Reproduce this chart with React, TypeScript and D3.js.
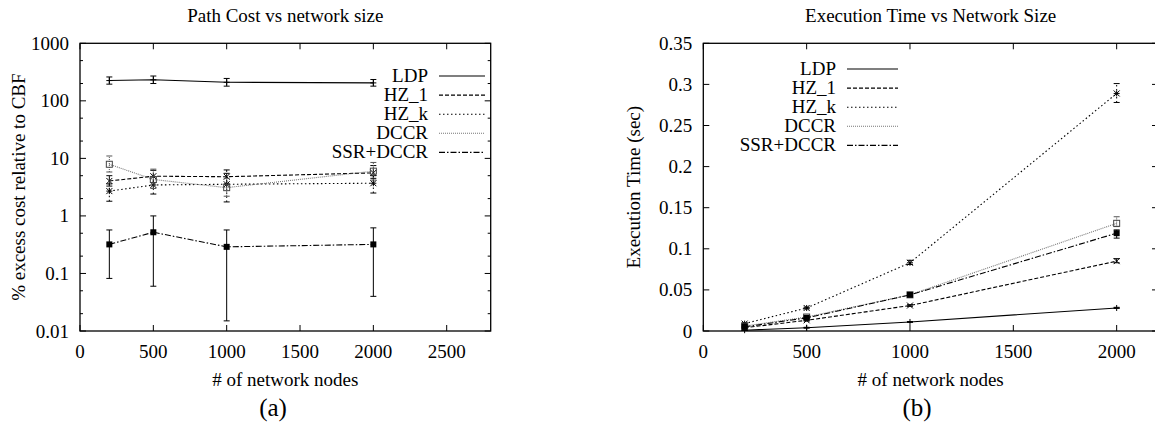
import React from 'react';
import * as d3 from 'd3';

// x positions (network nodes) shared by every series
const nodes = [200, 500, 1000, 2000];
const seriesNames = ['LDP', 'HZ_1', 'HZ_k', 'DCCR', 'SSR+DCCR'];

// panel (a): % excess cost relative to CBF (log scale)
const costLDP = [225, 232, 210, 205];
const costLDPLo = [195, 200, 180, 180];
const costLDPHi = [260, 270, 245, 235];
const costHZ1 = [4.05, 4.9, 4.8, 5.6];
const costHZ1Lo = [3.3, 3.8, 3.6, 4.5];
const costHZ1Hi = [5.0, 6.2, 6.3, 7.5];
const costHZk = [2.7, 3.45, 3.55, 3.7];
const costHZkLo = [1.8, 2.4, 1.75, 2.5];
const costHZkHi = [3.6, 4.8, 5.5, 5.0];
const costDCCR = [7.9, 4.3, 3.1, 6.0];
const costDCCRLo = [5.8, 3.0, 2.2, 4.2];
const costDCCRHi = [11, 6.5, 4.5, 8.5];
const costSSR = [0.32, 0.52, 0.29, 0.32];
const costSSRLo = [0.082, 0.06, 0.015, 0.04];
const costSSRHi = [0.57, 1.0, 0.57, 0.62];

// panel (b): execution time (sec)
const timeLDP = [0.001, 0.004, 0.011, 0.028];
const timeLDPLo = [0.0008, 0.0035, 0.0105, 0.0275];
const timeLDPHi = [0.0012, 0.0045, 0.0115, 0.0288];
const timeHZ1 = [0.004, 0.013, 0.031, 0.085];
const timeHZ1Lo = [0.0035, 0.012, 0.03, 0.083];
const timeHZ1Hi = [0.0045, 0.014, 0.032, 0.088];
const timeHZk = [0.009, 0.028, 0.083, 0.289];
const timeHZkLo = [0.008, 0.027, 0.081, 0.278];
const timeHZkHi = [0.01, 0.029, 0.086, 0.301];
const timeDCCR = [0.006, 0.017, 0.044, 0.131];
const timeDCCRLo = [0.005, 0.016, 0.043, 0.127];
const timeDCCRHi = [0.007, 0.018, 0.045, 0.139];
const timeSSR = [0.005, 0.016, 0.044, 0.119];
const timeSSRLo = [0.004, 0.015, 0.042, 0.113];
const timeSSRHi = [0.006, 0.017, 0.046, 0.123];

const xTicksA = [0, 500, 1000, 1500, 2000, 2500];
const yTicksA = [0.01, 0.1, 1, 10, 100, 1000];
const yTickLabelsA = ['0.01', '0.1', '1', '10', '100', '1000'];
const xTicksB = [0, 500, 1000, 1500, 2000];
const yTicksB = [0, 0.05, 0.1, 0.15, 0.2, 0.25, 0.3, 0.35];
const yTickLabelsB = ['0', '0.05', '0.1', '0.15', '0.2', '0.25', '0.3', '0.35'];

const FONT = '"Liberation Serif", "Times New Roman", serif';

// gnuplot-like line styles, one per series
const styles = [
  { dash: undefined, color: '#000', marker: 'plus', errDash: undefined },
  { dash: '4,2', color: '#000', marker: 'cross', errDash: '4,2' },
  { dash: '1.5,2.5', color: '#000', marker: 'star', errDash: '1.5,2.5' },
  { dash: '1,1', color: '#777', marker: 'box', errDash: '1,1' },
  { dash: '6,2,1.5,2', color: '#000', marker: 'fbox', errDash: undefined },
];

type Series = { v: number[]; lo: number[]; hi: number[] };

function Marker({ type, x, y }: { type: string; x: number; y: number }) {
  const s = 3;
  if (type === 'plus')
    return <path d={`M${x - s},${y}H${x + s}M${x},${y - s}V${y + s}`} stroke="#000" strokeWidth={1} />;
  if (type === 'cross')
    return <path d={`M${x - s},${y - s}L${x + s},${y + s}M${x - s},${y + s}L${x + s},${y - s}`} stroke="#000" strokeWidth={1} />;
  if (type === 'star')
    return <path d={`M${x - s},${y}H${x + s}M${x},${y - s}V${y + s}M${x - s},${y - s}L${x + s},${y + s}M${x - s},${y + s}L${x + s},${y - s}`} stroke="#000" strokeWidth={1} />;
  if (type === 'box')
    return <rect x={x - s} y={y - s} width={2 * s} height={2 * s} fill="none" stroke="#444" strokeWidth={1} />;
  return <rect x={x - s} y={y - s} width={2 * s} height={2 * s} fill="#000" />;
}

function Panel({
  x, y, series, xTicks, yTicks, yTickLabels, minorTicks, title, yLabel, tag, tagX,
  legendX, legendY, legendLen, yLabelX,
}: {
  x: d3.ScaleLinear<number, number>;
  y: d3.ScaleContinuousNumeric<number, number>;
  series: Series[];
  xTicks: number[];
  yTicks: number[];
  yTickLabels: string[];
  minorTicks: number[];
  title: string;
  yLabel: string;
  tag: string;
  tagX: number;
  legendX: number;
  legendY: number;
  legendLen: number;
  yLabelX: number;
}) {
  const [x0, x1] = x.range();
  const [y0, y1] = y.range(); // y0 bottom, y1 top
  const cx = (x0 + x1) / 2;
  const cy = (y0 + y1) / 2;
  const line = d3.line<number>().x((d, i) => x(nodes[i])).y(d => y(d));
  return (
    <g fontFamily={FONT} fontSize={19} fill="#000">
      <text x={cx} y={22} textAnchor="middle">{title}</text>
      {/* ticks */}
      <g stroke="#000" strokeWidth={1}>
        {xTicks.map(t => (
          <path key={'x' + t} d={`M${x(t)},${y0}v-6M${x(t)},${y1}v6`} />
        ))}
        {yTicks.map(t => (
          <path key={'y' + t} d={`M${x0},${y(t)}h6M${x1},${y(t)}h-6`} />
        ))}
        {minorTicks.map(t => (
          <path key={'m' + t} d={`M${x0},${y(t)}h3M${x1},${y(t)}h-3`} />
        ))}
      </g>
      {xTicks.map(t => (
        <text key={'xl' + t} x={x(t)} y={358} textAnchor="middle">{t}</text>
      ))}
      {yTicks.map((t, i) => (
        <text key={'yl' + t} x={x0 - 11} y={y(t) + 6.5} textAnchor="end">{yTickLabels[i]}</text>
      ))}
      <text x={cx} y={386} textAnchor="middle"># of network nodes</text>
      <text transform={`translate(${yLabelX},${cy}) rotate(-90)`} textAnchor="middle">{yLabel}</text>
      <text x={tagX} y={416} textAnchor="middle" fontSize={25}>{tag}</text>
      {/* series */}
      {series.map((s, k) => {
        const st = styles[k];
        return (
          <g key={k}>
            <path d={line(s.v) || ''} fill="none" stroke={st.color} strokeWidth={1.1} strokeDasharray={st.dash} />
            {s.v.map((v, i) => {
              const px = x(nodes[i]);
              return (
                <g key={i} stroke={k === 3 ? '#555' : '#000'} strokeWidth={1}>
                  <path d={`M${px},${y(s.lo[i])}V${y(s.hi[i])}`} strokeDasharray={st.errDash} />
                  <path d={`M${px - 3},${y(s.lo[i])}h6M${px - 3},${y(s.hi[i])}h6`} />
                </g>
              );
            })}
            {s.v.map((v, i) => (
              <Marker key={'m' + i} type={st.marker} x={x(nodes[i])} y={y(v)} />
            ))}
          </g>
        );
      })}
      {/* legend */}
      {seriesNames.map((n, k) => {
        const ly = legendY + k * 19.1;
        return (
          <g key={n}>
            <text x={legendX} y={ly + 6} textAnchor="end">{n}</text>
            <path d={`M${legendX + 11},${ly}h${legendLen}`} stroke={styles[k].color} strokeWidth={1.1} strokeDasharray={styles[k].dash} />
          </g>
        );
      })}
      <rect x={x0} y={y1} width={x1 - x0} height={y0 - y1} fill="none" stroke="#000" strokeWidth={1.3} />
    </g>
  );
}

export default function App() {
  const xA = d3.scaleLinear().domain([0, 2800]).range([80, 490.7]);
  const yA = d3.scaleLog().domain([0.01, 1000]).range([331, 43.3]);
  const xB = d3.scaleLinear().domain([0, 2200]).range([703.3, 1158]);
  const yB = d3.scaleLinear().domain([0, 0.35]).range([331, 43.3]);

  const minorA: number[] = [];
  [0.01, 0.1, 1, 10, 100].forEach(d => { minorA.push(d * 2, d * 5); });

  const seriesA: Series[] = [
    { v: costLDP, lo: costLDPLo, hi: costLDPHi },
    { v: costHZ1, lo: costHZ1Lo, hi: costHZ1Hi },
    { v: costHZk, lo: costHZkLo, hi: costHZkHi },
    { v: costDCCR, lo: costDCCRLo, hi: costDCCRHi },
    { v: costSSR, lo: costSSRLo, hi: costSSRHi },
  ];
  const seriesB: Series[] = [
    { v: timeLDP, lo: timeLDPLo, hi: timeLDPHi },
    { v: timeHZ1, lo: timeHZ1Lo, hi: timeHZ1Hi },
    { v: timeHZk, lo: timeHZkLo, hi: timeHZkHi },
    { v: timeDCCR, lo: timeDCCRLo, hi: timeDCCRHi },
    { v: timeSSR, lo: timeSSRLo, hi: timeSSRHi },
  ];

  return (
    <svg width={1155} height={429} style={{ position: 'absolute', left: 0, top: 0, background: '#fff' }}>
      <rect width={1155} height={429} fill="#fff" />
      <Panel x={xA} y={yA} series={seriesA} xTicks={xTicksA} yTicks={yTicksA} yTickLabels={yTickLabelsA}
        minorTicks={minorA} title="Path Cost vs network size" yLabel="% excess cost relative to CBF"
        tag="(a)" tagX={273} legendX={428} legendY={76} legendLen={46} yLabelX={25} />
      <Panel x={xB} y={yB} series={seriesB} xTicks={xTicksB} yTicks={yTicksB} yTickLabels={yTickLabelsB}
        minorTicks={[]} title="Execution Time vs Network Size" yLabel="Execution Time (sec)"
        tag="(b)" tagX={917} legendX={836} legendY={69} legendLen={51} yLabelX={640} />
    </svg>
  );
}
